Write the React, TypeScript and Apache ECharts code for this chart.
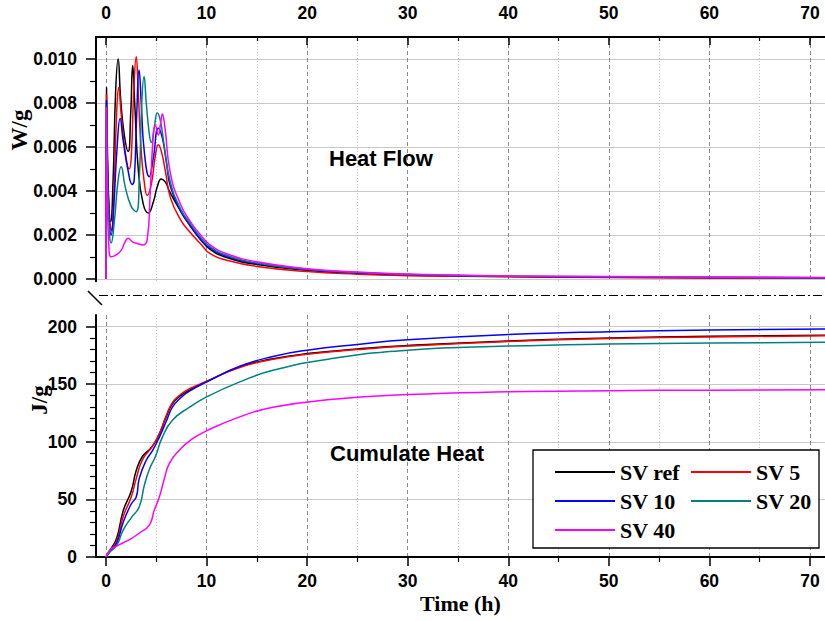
import React, { useEffect, useRef } from "react";
import * as echarts from "echarts";

const seriesNames = ["SV ref", "SV 5", "SV 10", "SV 20", "SV 40"];
const seriesColors = ["#000000", "#ff0000", "#0000ff", "#008080", "#ff00ff"];

// Heat flow (W/g) vs time (h)
const heatFlowRef: [number, number][] = [
  [0, 0], [0.05, 0.0087], [0.15, 0.0055], [0.3, 0.0032], [0.45, 0.0026], [0.7, 0.0045], [0.95, 0.0085],
  [1.2, 0.0100], [1.45, 0.0082], [1.8, 0.0066], [2.2, 0.0058], [2.45, 0.0075], [2.65, 0.0097], [2.85, 0.0080],
  [3.2, 0.0050], [3.7, 0.0034], [4.2, 0.0030], [4.7, 0.0035], [5.1, 0.0042], [5.5, 0.00455], [5.9, 0.0044],
  [6.4, 0.0039], [7.4, 0.0031], [8.4, 0.0024], [9.4, 0.0018], [10.35, 0.00135], [12, 0.00098], [15, 0.00066],
  [20, 0.0004], [25, 0.00026], [30, 0.00018], [35, 0.00014], [40, 0.00011], [50, 0.00008], [60, 0.00006], [72, 0.00005],
];
const heatFlowSV5: [number, number][] = [
  [0, 0], [0.04, 0.0084], [0.15, 0.005], [0.35, 0.0027], [0.57, 0.0022], [0.8, 0.0042], [1.05, 0.0075],
  [1.26, 0.0087], [1.5, 0.0075], [1.9, 0.0058], [2.3, 0.0050], [2.5, 0.0055], [2.75, 0.0085], [3.0, 0.0101],
  [3.2, 0.0085], [3.5, 0.0058], [3.8, 0.0044], [4.1, 0.0038], [4.5, 0.0043], [4.9, 0.0056], [5.2, 0.0061],
  [5.5, 0.0058], [5.9, 0.0049], [6.4, 0.0037], [7.4, 0.0027], [8.4, 0.0021], [9.4, 0.0016], [10.35, 0.00115],
  [12, 0.00085], [15, 0.00057], [20, 0.00034], [25, 0.00022], [30, 0.00015], [35, 0.00012], [40, 0.0001],
  [50, 0.00007], [60, 0.00005], [72, 0.00004],
];
const heatFlowSV10: [number, number][] = [
  [0, 0], [0.04, 0.0081], [0.15, 0.0048], [0.35, 0.0024], [0.5, 0.0020], [0.75, 0.0032], [1.1, 0.0060],
  [1.4, 0.0073], [1.7, 0.0063], [2.2, 0.0049], [2.6, 0.0043], [2.8, 0.0045], [3.05, 0.0075], [3.28, 0.0095],
  [3.5, 0.0080], [3.8, 0.0058], [4.3, 0.00465], [4.7, 0.0055], [5.2, 0.00685], [5.6, 0.0064], [6.0, 0.0053],
  [6.4, 0.0042], [7.4, 0.0031], [8.4, 0.0024], [9.4, 0.0018], [10.35, 0.0014], [12, 0.00102], [15, 0.0007],
  [20, 0.00042], [25, 0.00028], [30, 0.0002], [35, 0.00015], [40, 0.00012], [50, 0.00009], [60, 0.00007], [72, 0.00006],
];
const heatFlowSV20: [number, number][] = [
  [0, 0], [0.04, 0.0078], [0.15, 0.0045], [0.35, 0.0020], [0.5, 0.00164], [0.8, 0.0025], [1.2, 0.0045],
  [1.5, 0.0051], [1.9, 0.0042], [2.5, 0.0033], [3.0, 0.00306], [3.3, 0.0045], [3.55, 0.0080], [3.78, 0.0092],
  [4.0, 0.0080], [4.3, 0.0066], [4.5, 0.0062], [4.8, 0.0069], [5.1, 0.00755], [5.4, 0.0072], [5.8, 0.006],
  [6.4, 0.0044], [7.4, 0.0032], [8.4, 0.0025], [9.4, 0.0019], [10.35, 0.00147], [12, 0.00108], [15, 0.00073],
  [20, 0.00044], [25, 0.0003], [30, 0.00021], [35, 0.00016], [40, 0.00013], [50, 0.0001], [60, 0.00008], [72, 0.00006],
];
const heatFlowSV40: [number, number][] = [
  [0, 0], [0.03, 0.0078], [0.12, 0.004], [0.3, 0.0013], [0.5, 0.00101], [1.0, 0.0011], [1.5, 0.0013],
  [1.9, 0.0017], [2.2, 0.00185], [2.6, 0.0017], [3.2, 0.0016], [3.7, 0.00155], [4.1, 0.0018], [4.4, 0.0040],
  [4.65, 0.0062], [4.9, 0.0070], [5.2, 0.00655], [5.4, 0.0070], [5.6, 0.0075], [5.85, 0.0069], [6.4, 0.0048],
  [7.4, 0.0034], [8.4, 0.0026], [9.4, 0.002], [10.35, 0.00155], [12, 0.00115], [15, 0.00078], [20, 0.00047],
  [25, 0.00032], [30, 0.00023], [35, 0.00018], [40, 0.00014], [50, 0.00011], [60, 0.00009], [72, 0.00007],
];

// Cumulated heat (J/g) vs time (h)
const cumHeatRef: [number, number][] = [
  [0, 0], [0.4, 6], [1.06, 16.5], [1.7, 40], [2.5, 57], [3.0, 75], [3.6, 87], [4.6, 96], [5.3, 107], [6, 122],
  [6.6, 133], [7.4, 140], [8.3, 145], [10, 152], [13.3, 165], [16.6, 172], [20, 176.5], [25, 180.5], [30, 183.5],
  [40, 187.5], [50, 190], [60, 191.5], [72, 192.5],
];
const cumHeatSV5: [number, number][] = [
  [0, 0], [0.4, 5.5], [1.06, 14], [1.7, 35], [2.5, 52], [3.0, 68], [3.6, 84], [4.6, 96], [5.3, 107], [6, 123],
  [6.6, 134], [7.4, 141], [8.3, 146], [10, 152.5], [13.3, 164.5], [16.6, 171.5], [20, 176], [25, 180], [30, 183],
  [40, 187], [50, 189.5], [60, 191], [72, 192],
];
const cumHeatSV10: [number, number][] = [
  [0, 0], [0.4, 5], [1.06, 12], [1.7, 30], [2.5, 46], [3.0, 52], [3.3, 68], [4.0, 84], [4.6, 92], [5.3, 104],
  [6, 118], [6.6, 130], [7.4, 138], [8.3, 144], [10, 152], [13.3, 165.5], [16.6, 174], [20, 179.5], [25, 184.5],
  [30, 188.5], [40, 193], [50, 195.5], [60, 197], [72, 198],
];
const cumHeatSV20: [number, number][] = [
  [0, 0], [0.4, 4.5], [1.06, 10], [1.7, 23.4], [2.5, 34], [3.3, 43.6], [3.8, 62], [4.3, 76], [4.9, 87],
  [5.6, 104], [6.6, 118.7], [8.3, 130], [10, 139], [13.3, 152], [16.6, 162], [22.3, 172], [30, 179.5],
  [40, 183], [50, 184.8], [60, 185.6], [72, 186.3],
];
const cumHeatSV40: [number, number][] = [
  [0, 0], [0.4, 6.5], [1.06, 9.5], [1.7, 12.4], [2.5, 16], [3.3, 20.7], [4.3, 27.7], [4.8, 40.7], [5.3, 52],
  [5.8, 68], [6.3, 81.3], [7.3, 92.7], [8.5, 102], [10, 109.5], [13.3, 121.6], [16.6, 130], [22.3, 136.6],
  [30, 141], [40, 143.3], [50, 144.3], [60, 144.8], [72, 145.2],
];

const heatFlowData = [heatFlowRef, heatFlowSV5, heatFlowSV10, heatFlowSV20, heatFlowSV40];
const cumHeatData = [cumHeatRef, cumHeatSV5, cumHeatSV10, cumHeatSV20, cumHeatSV40];

const xMajorTicks = [0, 10, 20, 30, 40, 50, 60, 70];
const xMinorTicks = [5, 15, 25, 35, 45, 55, 65];
const hfMajorTicks = [0, 0.002, 0.004, 0.006, 0.008, 0.01];
const hfMinorTicks = [0.001, 0.003, 0.005, 0.007, 0.009];
const chMajorTicks = [0, 50, 100, 150, 200];
const chMinorTicks = [10, 20, 30, 40, 60, 70, 80, 90, 110, 120, 130, 140, 160, 170, 180, 190];

const SANS = "'Liberation Sans', Arial, sans-serif";
const SERIF = "'Liberation Serif', 'Times New Roman', serif";

const X_MIN = -1;
const X_MAX = 71.5;

function labelStyle() {
  return { color: "#000", fontFamily: SANS, fontWeight: "bold" as const, fontSize: 17.5 };
}

export default function App() {
  const ref = useRef<HTMLDivElement>(null);
  useEffect(() => {
    if (!ref.current) return;
    const chart = echarts.init(ref.current, undefined, { renderer: "svg" });
    const axisLine = { show: true, onZero: false, lineStyle: { color: "#000", width: 2 } };
    const hiddenLine = { show: false, onZero: false };

    const xAxis: any[] = [
      {
        gridIndex: 0, type: "value", min: X_MIN, max: X_MAX, position: "top",
        axisLine,
        axisTick: { show: true, inside: true, length: 8, customValues: xMajorTicks, lineStyle: { color: "#000", width: 1.5 } },
        axisLabel: { ...labelStyle(), margin: 15, customValues: xMajorTicks },
        splitLine: { show: true, lineStyle: { color: "#8a8a8a", width: 1, type: [4, 3] } },
      },
      {
        gridIndex: 0, type: "value", min: X_MIN, max: X_MAX, position: "top",
        axisLine: hiddenLine,
        axisTick: { show: true, inside: true, length: 4, customValues: xMinorTicks, lineStyle: { color: "#000", width: 1.2 } },
        axisLabel: { show: false },
        splitLine: { show: true, lineStyle: { color: "#c4c4c4", width: 1, type: [1, 2] } },
      },
      {
        gridIndex: 1, type: "value", min: X_MIN, max: X_MAX, position: "bottom",
        axisLine,
        axisTick: { show: true, inside: false, length: 9, customValues: xMajorTicks, lineStyle: { color: "#000", width: 1.5 } },
        axisLabel: { ...labelStyle(), margin: 15, customValues: xMajorTicks },
        splitLine: { show: true, lineStyle: { color: "#8a8a8a", width: 1, type: [4, 3] } },
        name: "Time (h)", nameLocation: "middle", nameGap: 35,
        nameTextStyle: { color: "#000", fontFamily: SERIF, fontWeight: "bold", fontSize: 22 },
      },
      {
        gridIndex: 1, type: "value", min: X_MIN, max: X_MAX, position: "bottom",
        axisLine: hiddenLine,
        axisTick: { show: true, inside: false, length: 5, customValues: xMinorTicks, lineStyle: { color: "#000", width: 1.2 } },
        axisLabel: { show: false },
        splitLine: { show: true, lineStyle: { color: "#c4c4c4", width: 1, type: [1, 2] } },
      },
    ];

    const yAxis: any[] = [
      {
        gridIndex: 0, type: "value", min: -0.0001, max: 0.011, position: "left",
        axisLine,
        axisTick: { show: true, length: 10, customValues: hfMajorTicks, lineStyle: { color: "#000", width: 1.5 } },
        axisLabel: { ...labelStyle(), margin: 19, customValues: hfMajorTicks, formatter: (v: number) => v.toFixed(3) },
        splitLine: { show: true, lineStyle: { color: "#c8c8c8", width: 1, type: "solid" } },
      },
      {
        gridIndex: 0, type: "value", min: -0.0001, max: 0.011, position: "left",
        axisLine: hiddenLine,
        axisTick: { show: true, length: 6, customValues: hfMinorTicks, lineStyle: { color: "#000", width: 1.2 } },
        axisLabel: { show: false },
        splitLine: { show: false },
      },
      {
        gridIndex: 1, type: "value", min: 0, max: 210, position: "left",
        axisLine,
        axisTick: { show: true, length: 10, customValues: chMajorTicks, lineStyle: { color: "#000", width: 1.5 } },
        axisLabel: { ...labelStyle(), margin: 19, customValues: chMajorTicks },
        splitLine: { show: true, lineStyle: { color: "#c8c8c8", width: 1, type: "solid" } },
      },
      {
        gridIndex: 1, type: "value", min: 0, max: 210, position: "left",
        axisLine: hiddenLine,
        axisTick: { show: true, length: 6, customValues: chMinorTicks, lineStyle: { color: "#000", width: 1.2 } },
        axisLabel: { show: false },
        splitLine: { show: false },
      },
    ];

    const series: any[] = [];
    seriesNames.forEach((name, i) => {
      series.push({
        name, type: "line", xAxisIndex: 0, yAxisIndex: 0, data: heatFlowData[i],
        symbol: "none", showSymbol: false, smooth: 0.5,
        lineStyle: { color: seriesColors[i], width: 1.5 }, itemStyle: { color: seriesColors[i] },
      });
    });
    seriesNames.forEach((name, i) => {
      series.push({
        name, type: "line", xAxisIndex: 2, yAxisIndex: 2, data: cumHeatData[i],
        symbol: "none", showSymbol: false, smooth: 0.5,
        lineStyle: { color: seriesColors[i], width: 1.5 }, itemStyle: { color: seriesColors[i] },
      });
    });

    const legendText = { color: "#000", fontFamily: SERIF, fontWeight: "bold" as const, fontSize: 22 };
    const legendCommon = {
      orient: "vertical", top: 456, itemWidth: 60, itemHeight: 2, itemGap: 7, icon: "rect",
      textStyle: legendText, z: 10, selectedMode: false,
    };

    chart.setOption({
      animation: false,
      backgroundColor: "#fff",
      grid: [
        { left: 96, right: 0, top: 37, height: 244.2 },
        { left: 96, right: 0, top: 315, height: 242 },
      ],
      xAxis,
      yAxis,
      series,
      legend: [
        { ...legendCommon, data: [seriesNames[0], seriesNames[2], seriesNames[4]], left: 550 },
        { ...legendCommon, data: [seriesNames[1], seriesNames[3]], left: 686 },
      ],
      graphic: [
        {
          type: "rect", z: 5,
          shape: { x: 533, y: 450, width: 286, height: 98 },
          style: { fill: "#fff", stroke: "#000", lineWidth: 1.3 },
        },
        {
          type: "text", x: 329, y: 158, z: 5,
          style: { text: "Heat Flow", fill: "#000", font: `bold 22px ${SANS}`, align: "left", verticalAlign: "middle" },
        },
        {
          type: "text", x: 330, y: 453, z: 5,
          style: { text: "Cumulate Heat", fill: "#000", font: `bold 22px ${SANS}`, align: "left", verticalAlign: "middle" },
        },
        {
          type: "text", x: 19, y: 130, rotation: Math.PI / 2, z: 5,
          style: { text: "W/g", fill: "#000", font: `bold 23px ${SERIF}`, align: "center", verticalAlign: "middle" },
        },
        {
          type: "text", x: 39, y: 400, rotation: Math.PI / 2, z: 5,
          style: { text: "J/g", fill: "#000", font: `bold 23px ${SERIF}`, align: "center", verticalAlign: "middle" },
        },
        {
          type: "line", z: 5,
          shape: { x1: 99, y1: 295.5, x2: 825, y2: 295.5 },
          style: { stroke: "#000", lineWidth: 1, lineDash: [9, 3, 2, 3] },
        },
        {
          type: "line", z: 5,
          shape: { x1: 88, y1: 291, x2: 102, y2: 305 },
          style: { stroke: "#000", lineWidth: 1.5 },
        },
      ],
    });
    return () => chart.dispose();
  }, []);
  return <div ref={ref} style={{ position: "fixed", left: 0, top: 0, width: 825, height: 621 }} />;
}
